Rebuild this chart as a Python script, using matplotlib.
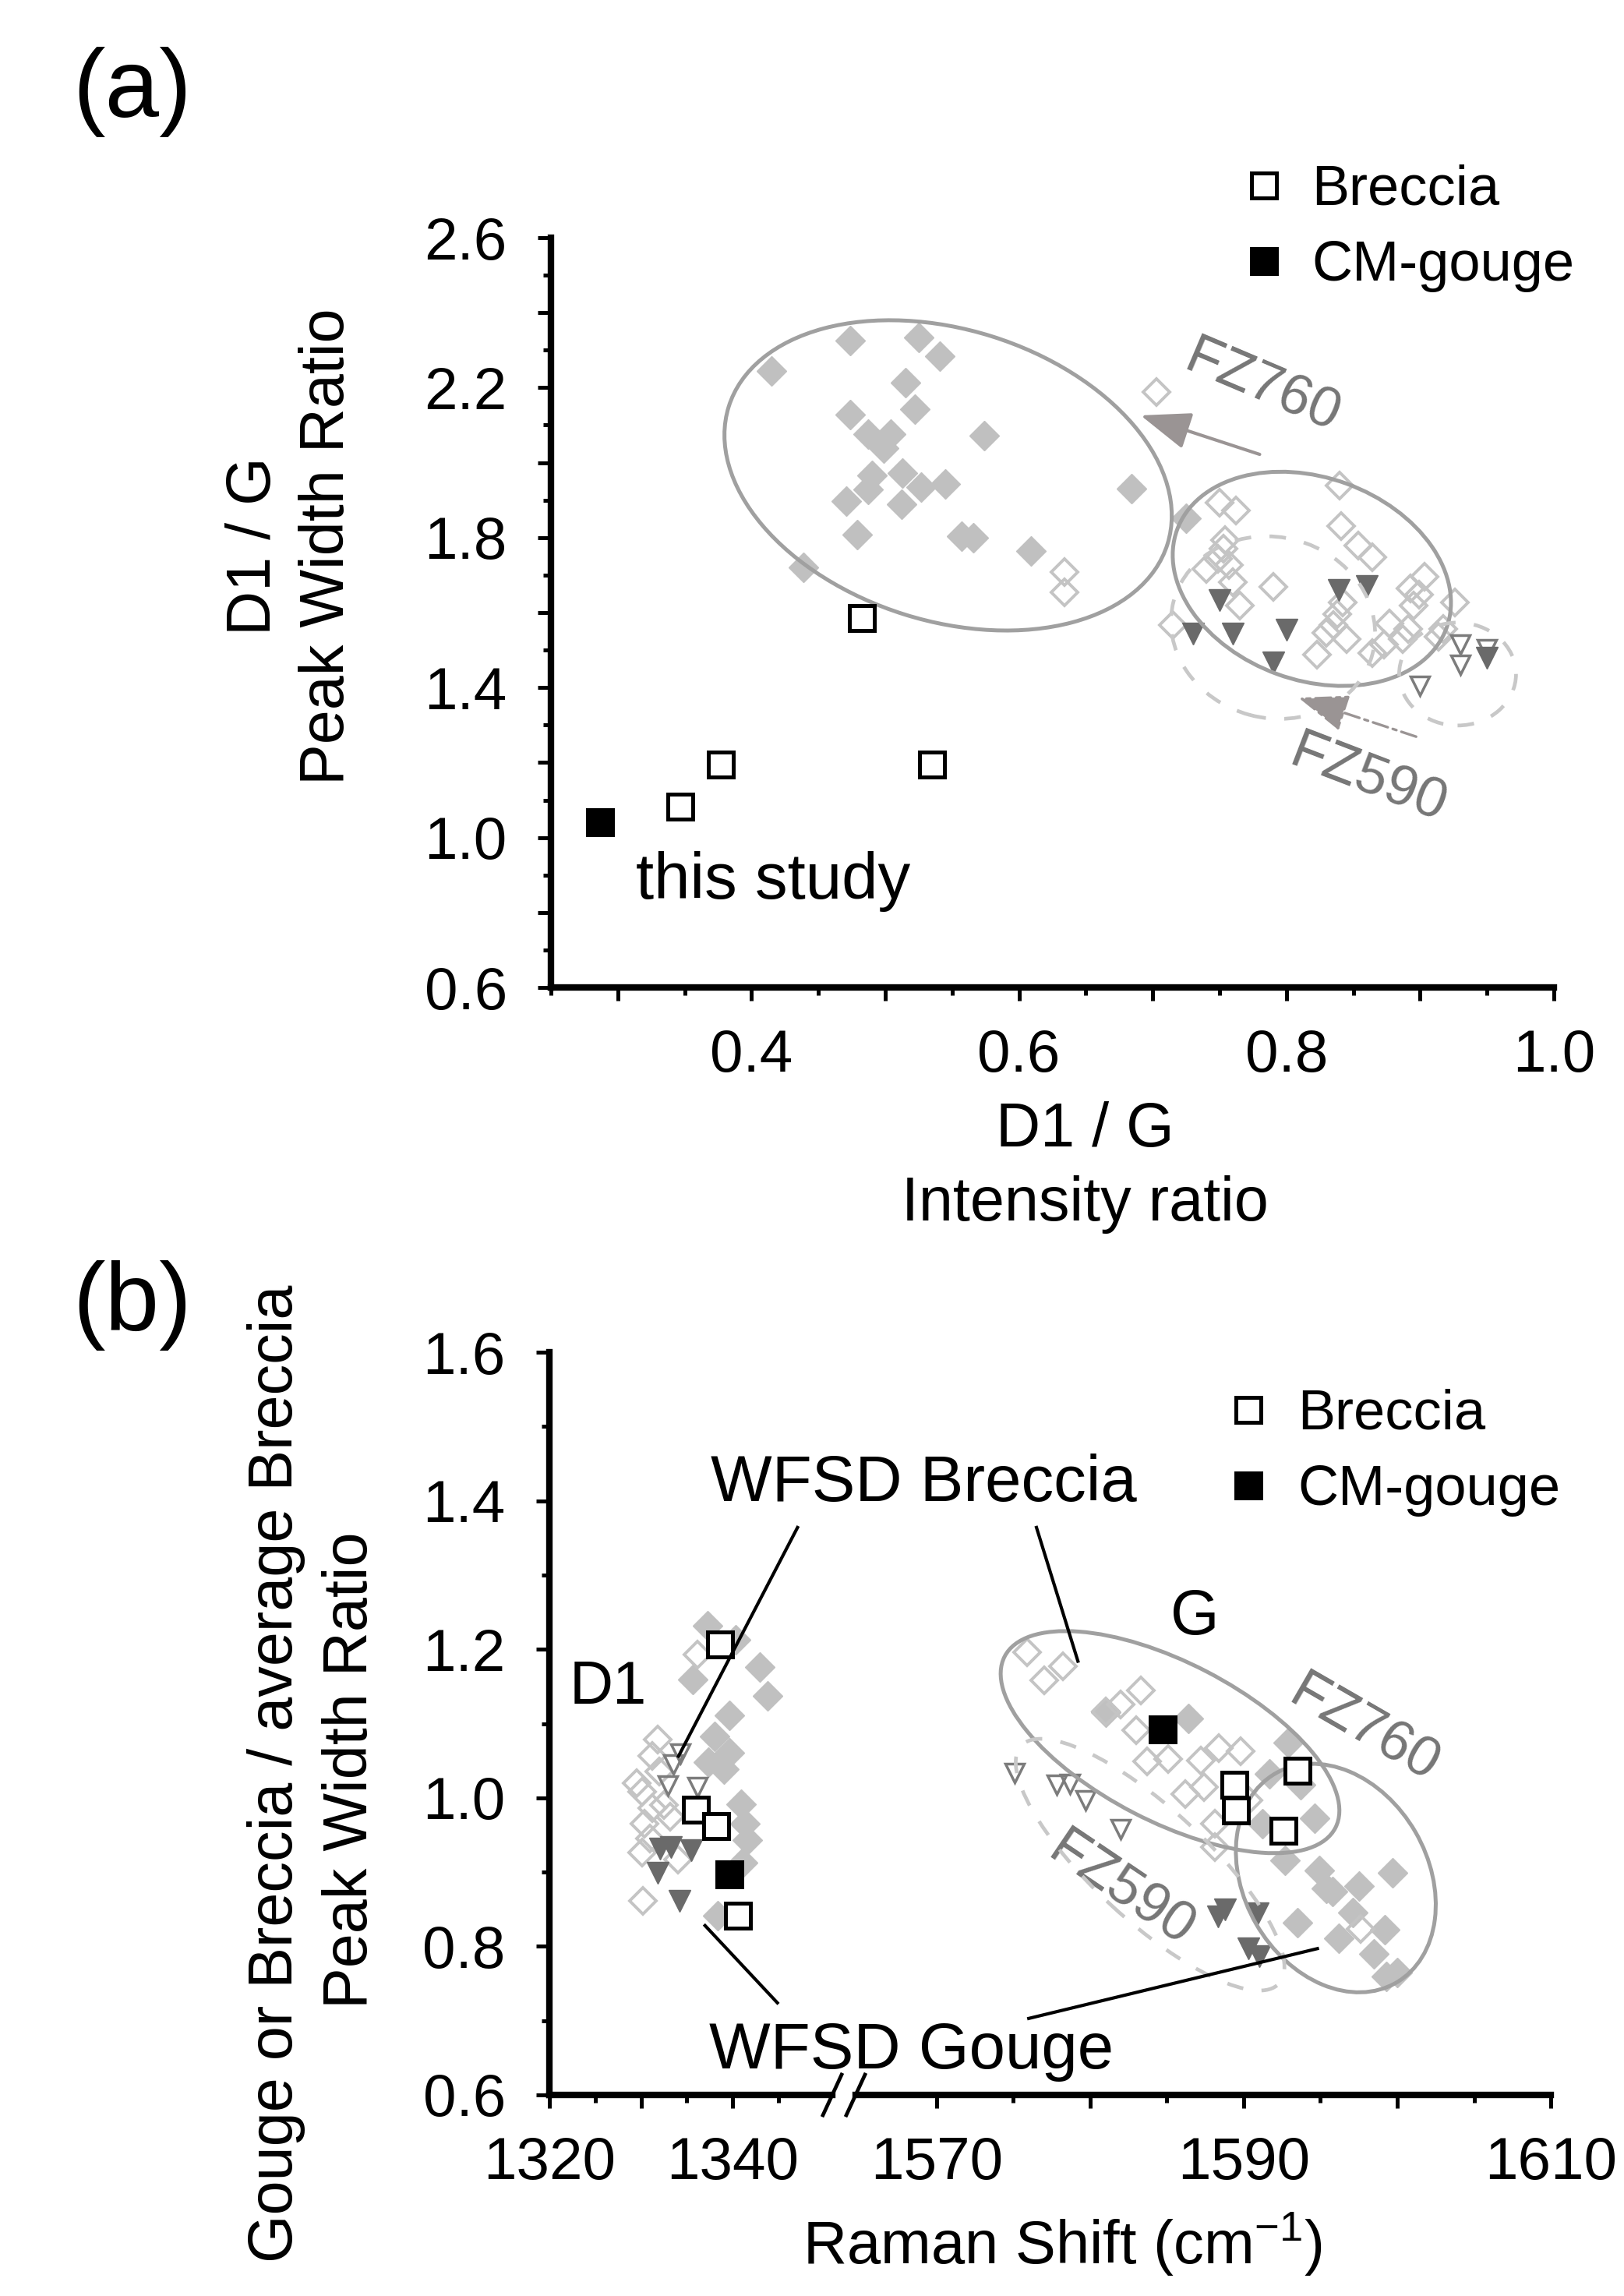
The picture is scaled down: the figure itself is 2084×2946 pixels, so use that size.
import matplotlib
matplotlib.use("Agg")
import matplotlib.pyplot as plt
from matplotlib.lines import Line2D
from matplotlib.patches import Ellipse
from matplotlib.ticker import FixedLocator, FixedFormatter, MultipleLocator
from matplotlib.transforms import ScaledTranslation

plt.rcParams["font.family"] = ["Liberation Sans", "DejaVu Sans"]
plt.rcParams["mathtext.fontset"] = "custom"
plt.rcParams["mathtext.rm"] = "Liberation Sans"
plt.rcParams["mathtext.it"] = "Liberation Sans:italic"

W, H, DPI = 2084, 2946, 100

# ---------------- panel (a): D1/G intensity ratio vs peak width ratio
a_fz760_gouge_x = [0.415, 0.474, 0.525, 0.541, 0.515, 0.474, 0.522, 0.487, 0.504, 0.499,
                   0.574, 0.490, 0.513, 0.527, 0.545, 0.471, 0.487, 0.512, 0.479, 0.557,
                   0.566, 0.609, 0.684, 0.439, 0.725]
a_fz760_gouge_y = [2.245, 2.326, 2.333, 2.285, 2.213, 2.129, 2.143, 2.077, 2.077, 2.039,
                   2.072, 1.966, 1.973, 1.935, 1.942, 1.897, 1.928, 1.890, 1.808, 1.803,
                   1.800, 1.765, 1.931, 1.720, 1.851]
a_fz760_breccia_x = [0.703, 0.634, 0.634, 0.715, 0.840, 0.750, 0.762, 0.754, 0.753, 0.841,
                     0.854, 0.864, 0.740, 0.757, 0.760, 0.790, 0.765, 0.842, 0.835, 0.823,
                     0.845, 0.864, 0.903, 0.899, 0.895, 0.926, 0.877, 0.891, 0.887, 0.873,
                     0.914, 0.749, 0.838, 0.830, 0.893, 0.917]
a_fz760_breccia_y = [2.188, 1.709, 1.654, 1.566, 1.938, 1.893, 1.872, 1.793, 1.770, 1.831,
                     1.779, 1.748, 1.716, 1.727, 1.682, 1.668, 1.619, 1.626, 1.567, 1.488,
                     1.529, 1.491, 1.696, 1.647, 1.619, 1.626, 1.571, 1.557, 1.529, 1.515,
                     1.536, 1.744, 1.595, 1.545, 1.665, 1.557]
a_fz590_gouge_x = [0.750, 0.730, 0.760, 0.800, 0.790, 0.839, 0.860, 0.950]
a_fz590_gouge_y = [1.633, 1.543, 1.543, 1.554, 1.467, 1.661, 1.671, 1.480]
a_fz590_breccia_x = [0.930, 0.930, 0.950, 0.900]
a_fz590_breccia_y = [1.515, 1.460, 1.502, 1.405]
a_breccia_x = [0.4825, 0.377, 0.535, 0.347]
a_breccia_y = [1.586, 1.195, 1.195, 1.083]
a_cm_x = [0.287]
a_cm_y = [1.041]

a_xticks = [0.3, 0.4, 0.5, 0.6, 0.7, 0.8, 0.9, 1.0]
a_xticklabels = ["", "0.4", "", "0.6", "", "0.8", "", "1.0"]
a_yticks = [0.6, 0.8, 1.0, 1.2, 1.4, 1.6, 1.8, 2.0, 2.2, 2.4, 2.6]
a_yticklabels = ["0.6", "", "1.0", "", "1.4", "", "1.8", "", "2.2", "", "2.6"]

# arrows: (tail, head)
a_arrow_fz760 = [(0.780, 2.022), (0.691, 2.126)]
a_arrow_fz590 = [(0.897, 1.269), (0.809, 1.373)]

# ---------------- panel (b): Raman shift vs normalised width ratio
d1_fz760_gouge_x = [1337.3, 1335.7, 1340.3, 1343.0, 1343.8, 1339.7, 1338.0, 1339.7, 1337.4,
                    1339.1, 1340.9, 1341.4, 1341.6, 1341.1, 1338.4]
d1_fz760_gouge_y = [1.232, 1.159, 1.213, 1.176, 1.137, 1.111, 1.083, 1.061, 1.048,
                    1.039, 0.991, 0.965, 0.943, 0.913, 0.841]
d1_fz760_breccia_x = [1336.2, 1331.8, 1331.2, 1330.1, 1331.2, 1332.5, 1330.4, 1333.2, 1330.1,
                      1331.0, 1334.0, 1330.2, 1329.5, 1332.0]
d1_fz760_breccia_y = [1.193, 1.078, 1.056, 1.008, 0.986, 0.990, 0.965, 0.975, 0.926,
                      0.945, 0.917, 0.861, 1.020, 1.035]
d1_fz590_breccia_x = [1334.3, 1333.5, 1332.9, 1336.2]
d1_fz590_breccia_y = [1.060, 1.045, 1.017, 1.015]
d1_fz590_gouge_x = [1332.1, 1333.3, 1335.5, 1331.8, 1334.2]
d1_fz590_gouge_y = [0.932, 0.934, 0.930, 0.899, 0.861]
d1_breccia_x = [1338.6, 1336.0, 1338.2, 1340.6]
d1_breccia_y = [1.2065, 0.984, 0.962, 0.841]
d1_cm_x = [1339.7]
d1_cm_y = [0.897]

g_fz760_gouge_x = [1586.4, 1592.9, 1591.7, 1593.7, 1591.2, 1594.6, 1594.9, 1593.5, 1595.8,
                   1596.2, 1597.5, 1599.7, 1597.1, 1599.2, 1598.5, 1599.3, 1600.0, 1595.4,
                   1592.7, 1581.0]
g_fz760_gouge_y = [1.107, 1.074, 1.032, 1.018, 0.965, 0.972, 0.902, 0.832, 0.874,
                   0.811, 0.881, 0.899, 0.846, 0.822, 0.790, 0.759, 0.765, 0.878,
                   0.916, 1.115]
g_fz760_breccia_x = [1575.9, 1577.0, 1578.2, 1581.0, 1582.0, 1583.3, 1583.0, 1583.7, 1585.1,
                     1588.4, 1589.8, 1587.2, 1586.2, 1587.4, 1588.1, 1588.1, 1590.3, 1597.6]
g_fz760_breccia_y = [1.196, 1.158, 1.177, 1.116, 1.126, 1.145, 1.091, 1.049, 1.052,
                     1.067, 1.063, 1.050, 1.005, 1.014, 0.965, 0.934, 0.997, 0.823]
g_fz590_breccia_x = [1575.1, 1577.8, 1578.7, 1579.7, 1582.0]
g_fz590_breccia_y = [1.033, 1.018, 1.019, 0.997, 0.958]
g_fz590_gouge_x = [1588.8, 1588.3, 1590.9, 1590.3, 1591.0]
g_fz590_gouge_y = [0.850, 0.840, 0.845, 0.797, 0.787]
g_breccia_x = [1593.5, 1589.4, 1589.5, 1592.6]
g_breccia_y = [1.037, 1.018, 0.983, 0.956]
g_cm_x = [1584.7]
g_cm_y = [1.092]

b_left_xticks = [1320, 1330, 1340]
b_left_xticklabels = ["1320", "", "1340"]
b_right_xticks = [1570, 1580, 1590, 1600, 1610]
b_right_xticklabels = ["1570", "", "1590", "", "1610"]
b_yticks = [0.6, 0.8, 1.0, 1.2, 1.4, 1.6]
b_yticklabels = ["0.6", "0.8", "1.0", "1.2", "1.4", "1.6"]

# leader lines (x0, y0, x1, y1)
d1_leaders = [(1334.1, 1.056, 1347.1, 1.364), (1337.0, 0.828, 1344.9, 0.724)]
g_leaders = [(1579.2, 1.184, 1576.5, 1.364), (1576.0, 0.703, 1594.8, 0.797)]

# ---------------- styles
C_LIGHT = "#c0c0c0"
C_OPEN = "#c4c4c4"
C_DARK = "#6a6a6a"
C_TRI = "#7c7c7c"
C_ELL = "#a0a0a0"
C_DASH = "#c8c8c8"
C_LABEL = "#767676"


def fx(px):
    return px / W


def fy(py):
    return 1 - py / H


def draw_series(ax, fg_x, fg_y, fb_x, fb_y, tb_x, tb_y, tg_x, tg_y, br_x, br_y, cm_x, cm_y):
    ax.plot(fg_x, fg_y, "D", ms=19.5, color=C_LIGHT, mec=C_LIGHT, mew=1, ls="none", zorder=2)
    ax.plot(fb_x, fb_y, "D", ms=17, mfc="none", mec=C_OPEN, mew=2.8, ls="none", zorder=3)
    ax.plot(tb_x, tb_y, "v", ms=17, mfc="none", mec=C_TRI, mew=2.5, ls="none", zorder=4)
    ax.plot(tg_x, tg_y, "v", ms=20, color=C_DARK, mec=C_DARK, ls="none", zorder=4)
    hb, = ax.plot(br_x, br_y, "s", ms=23, mfc="white", mec="black", mew=3.6, ls="none", zorder=6)
    hc, = ax.plot(cm_x, cm_y, "s", ms=23, color="black", mec="black", mew=3.6, ls="none", zorder=6)
    return hb, hc


def add_ellipse(ax, cx, cy, a_px, b_px, angle, **kw):
    tr = fig.dpi_scale_trans + ScaledTranslation(cx, cy, ax.transData)
    e = Ellipse((0, 0), 2 * a_px / DPI, 2 * b_px / DPI, angle=angle, transform=tr,
                fill=False, zorder=5, **kw)
    ax.add_patch(e)


def style_axes(ax):
    for s in ["top", "right"]:
        ax.spines[s].set_visible(False)
    for s in ["left", "bottom"]:
        ax.spines[s].set_linewidth(6)
    ax.tick_params(which="major", direction="out", length=12.5, width=3.6, labelsize=55)
    ax.tick_params(which="minor", direction="out", length=7, width=3.6)
    ax.tick_params(axis="x", which="major", pad=26)
    ax.tick_params(axis="y", which="major", pad=28)


fig = plt.figure(figsize=(W / DPI, H / DPI), dpi=DPI)

# ====================== (a)
ax_a = fig.add_axes([fx(707), fy(1267), (1994 - 707) / W, (1267 - 305) / H])
style_axes(ax_a)
hb, hc = draw_series(ax_a, a_fz760_gouge_x, a_fz760_gouge_y, a_fz760_breccia_x, a_fz760_breccia_y,
                     a_fz590_breccia_x, a_fz590_breccia_y, a_fz590_gouge_x, a_fz590_gouge_y,
                     a_breccia_x, a_breccia_y, a_cm_x, a_cm_y)
ax_a.set_xlim(0.25, 1.0)
ax_a.set_ylim(0.6, 2.6)
ax_a.xaxis.set_major_locator(FixedLocator(a_xticks))
ax_a.xaxis.set_major_formatter(FixedFormatter(a_xticklabels))
ax_a.xaxis.set_minor_locator(MultipleLocator(0.05))
ax_a.yaxis.set_major_locator(FixedLocator(a_yticks))
ax_a.yaxis.set_major_formatter(FixedFormatter(a_yticklabels))
ax_a.yaxis.set_minor_locator(MultipleLocator(0.1))

add_ellipse(ax_a, 0.547, 1.966, 295, 187, -17.4, color=C_ELL, lw=3.6)
add_ellipse(ax_a, 0.819, 1.690, 184, 130, -20, color=C_ELL, lw=3.6)
add_ellipse(ax_a, 0.790, 1.560, 132, 116, -15, color=C_DASH, lw=3.4, ls=(0, (4.5, 5)))
add_ellipse(ax_a, 0.928, 1.436, 75, 66, 0, color=C_DASH, lw=3.4, ls=(0, (4.5, 5)))

ax_a.annotate("", xy=a_arrow_fz760[1], xytext=a_arrow_fz760[0],
              arrowprops=dict(arrowstyle="-|>,head_length=0.8,head_width=0.3",
                              mutation_scale=50, color="#9a9494", lw=3,
                              shrinkA=0, shrinkB=0), zorder=5)
ax_a.annotate("", xy=a_arrow_fz590[1], xytext=a_arrow_fz590[0],
              arrowprops=dict(arrowstyle="-|>,head_length=0.8,head_width=0.3",
                              mutation_scale=50, color="#9a9494", lw=2.4,
                              ls=(0, (6, 2, 1.5, 2)), shrinkA=0, shrinkB=0), zorder=5)

ax_a.text(0.782, 2.203, "FZ760", fontsize=52, color=C_LABEL, rotation=-23,
          ha="center", va="center", rotation_mode="anchor")
ax_a.text(0.861, 1.155, "FZ590", fontsize=52, color=C_LABEL, rotation=-21,
          ha="center", va="center", rotation_mode="anchor")
ax_a.text(0.416, 0.883, "this study", fontsize=60, ha="center", va="center")

ax_a.legend([hb, hc], ["Breccia", "CM-gouge"], loc="center left",
            bbox_to_anchor=(fx(1604), fy(293)), bbox_transform=fig.transFigure,
            frameon=False, fontsize=52, handlelength=0.5, handletextpad=0.6,
            labelspacing=0.42, borderpad=0, borderaxespad=0, markerscale=1)

fig.text(fx(327), fy(701), "D1 / G", fontsize=57, rotation=90, ha="center", va="center")
fig.text(fx(421), fy(701), "Peak Width Ratio", fontsize=57, rotation=90, ha="center", va="center")
fig.text(fx(1392), fy(1451), "D1 / G", fontsize=57, ha="center", va="center")
fig.text(fx(1392), fy(1545), "Intensity ratio", fontsize=57, ha="center", va="center")
fig.text(fx(170), fy(118), "(a)", fontsize=90, ha="center", va="center")

# ====================== (b), broken x axis
b_h = (2688 - 1735) / H
ax_b1 = fig.add_axes([fx(705), fy(2688), (1068 - 705) / W, b_h])
ax_b2 = fig.add_axes([fx(1098), fy(2688), (1990 - 1098) / W, b_h])
for ax in (ax_b1, ax_b2):
    style_axes(ax)
    ax.set_ylim(0.6, 1.6)
    ax.patch.set_alpha(0)
ax_b2.spines["left"].set_visible(False)
ax_b2.tick_params(axis="y", which="both", left=False, labelleft=False)

ax_b1.set_xlim(1320, 1320 + (1068 - 705) / 11.75)
ax_b2.set_xlim(1570 - (1202 - 1098) / 19.7, 1610)
ax_b1.xaxis.set_major_locator(FixedLocator(b_left_xticks))
ax_b1.xaxis.set_major_formatter(FixedFormatter(b_left_xticklabels))
ax_b1.xaxis.set_minor_locator(FixedLocator([1325, 1335, 1345]))
ax_b2.xaxis.set_major_locator(FixedLocator(b_right_xticks))
ax_b2.xaxis.set_major_formatter(FixedFormatter(b_right_xticklabels))
ax_b2.xaxis.set_minor_locator(FixedLocator([1575, 1585, 1595, 1605]))
ax_b1.yaxis.set_major_locator(FixedLocator(b_yticks))
ax_b1.yaxis.set_major_formatter(FixedFormatter(b_yticklabels))
ax_b1.yaxis.set_minor_locator(MultipleLocator(0.1))

draw_series(ax_b1, d1_fz760_gouge_x, d1_fz760_gouge_y, d1_fz760_breccia_x, d1_fz760_breccia_y,
            d1_fz590_breccia_x, d1_fz590_breccia_y, d1_fz590_gouge_x, d1_fz590_gouge_y,
            d1_breccia_x, d1_breccia_y, d1_cm_x, d1_cm_y)
hb2, hc2 = draw_series(ax_b2, g_fz760_gouge_x, g_fz760_gouge_y, g_fz760_breccia_x, g_fz760_breccia_y,
                       g_fz590_breccia_x, g_fz590_breccia_y, g_fz590_gouge_x, g_fz590_gouge_y,
                       g_breccia_x, g_breccia_y, g_cm_x, g_cm_y)

add_ellipse(ax_b2, 1585.2, 1.075, 239, 102, -27.4, color=C_ELL, lw=3.6)
add_ellipse(ax_b2, 1596.0, 0.892, 155, 118, -60, color=C_ELL, lw=3.6)
add_ellipse(ax_b2, 1583.9, 0.910, 225, 72, -42.7, color=C_DASH, lw=3.4, ls=(0, (4.5, 5)))

for x0, y0, x1, y1 in d1_leaders:
    ax_b1.plot([x0, x1], [y0, y1], color="black", lw=3, zorder=7)
for x0, y0, x1, y1 in g_leaders:
    ax_b2.plot([x0, x1], [y0, y1], color="black", lw=3, zorder=7)

ax_b2.text(1597.8, 1.092, "FZ760", fontsize=52, color=C_LABEL, rotation=-30,
           ha="center", va="center", rotation_mode="anchor")
ax_b2.text(1582.0, 0.876, "FZ590", fontsize=52, color=C_LABEL, rotation=-34,
           ha="center", va="center", rotation_mode="anchor")

ax_b2.legend([hb2, hc2], ["Breccia", "CM-gouge"], loc="center left",
             bbox_to_anchor=(fx(1584), fy(1864)), bbox_transform=fig.transFigure,
             frameon=False, fontsize=52, handlelength=0.5, handletextpad=0.62,
             labelspacing=0.42, borderpad=0, borderaxespad=0, markerscale=1)

# axis break marks
for bx in (1068, 1098):
    fig.add_artist(Line2D([fx(bx - 12), fx(bx + 12)], [fy(2714), fy(2662)],
                          transform=fig.transFigure, color="black", lw=3.4))

fig.text(fx(1185), fy(1904), "WFSD Breccia", fontsize=60, ha="center", va="center")
fig.text(fx(1170), fy(2632), "WFSD Gouge", fontsize=60, ha="center", va="center")
fig.text(fx(780), fy(2166), "D1", fontsize=56, ha="center", va="center")
fig.text(fx(1533), fy(2076), "G", fontsize=58, ha="center", va="center")

fig.text(fx(355), fy(2276), "Gouge or Breccia / average Breccia", fontsize=57, rotation=90,
         ha="center", va="center")
fig.text(fx(450), fy(2271), "Peak Width Ratio", fontsize=57, rotation=90, ha="center", va="center")
fig.text(fx(1363), fy(2880), r"Raman Shift (cm$^{-1}$)", fontsize=56, ha="center", va="center")
fig.text(fx(170), fy(1675), "(b)", fontsize=90, ha="center", va="center")

fig.savefig("out.png", dpi=DPI)
